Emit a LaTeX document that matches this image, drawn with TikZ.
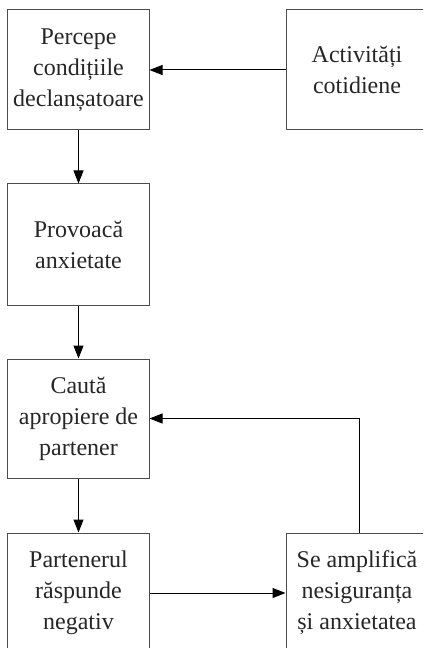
\documentclass[tikz,border=0pt]{standalone}
\usepackage{fontspec}
\setmainfont{Liberation Serif}
\usetikzlibrary{arrows.meta}
\begin{document}
\begin{tikzpicture}[x=1bp,y=-1bp,
  box/.style={draw=black!70, line width=1bp, minimum width=141bp, minimum height=120bp,
    inner sep=0pt, align=center, text=black!85, font=\fontsize{24bp}{31bp}\selectfont},
  conn/.style={draw=black, line width=1bp, -{Triangle[length=13bp,width=10bp]}}]
\useasboundingbox (0,0) rectangle (423,648);
\clip (0,0) rectangle (423,648);
\node[box] (perc) at (78.5,70) {Percepe\\condițiile\\declanșatoare};
\node[box, minimum width=142bp] (act) at (357,70) {Activități\\cotidiene};
\node[box, minimum height=121bp] (prov) at (78.5,244.5) {Provoacă\\anxietate};
\node[box, minimum height=119bp] (caut) at (78.5,418.5) {Caută\\apropiere de\\partener};
\node[box] (part) at (78.5,593) {Partenerul\\răspunde\\negativ};
\node[box, minimum width=142bp] (ampl) at (357,593) {Se amplifică\\nesiguranța\\și anxietatea};
\coordinate (corner) at ([xshift=2bp]ampl.north |- caut.east);
\draw[conn] (act.west) -- (perc.east);
\draw[conn] (perc.south) -- (prov.north);
\draw[conn] (prov.south) -- (caut.north);
\draw[conn] (caut.south) -- (part.north);
\draw[conn] (part.east) -- (ampl.west);
\draw[conn] ([xshift=2bp]ampl.north) -- (corner) -- (caut.east);
\end{tikzpicture}
\end{document}
